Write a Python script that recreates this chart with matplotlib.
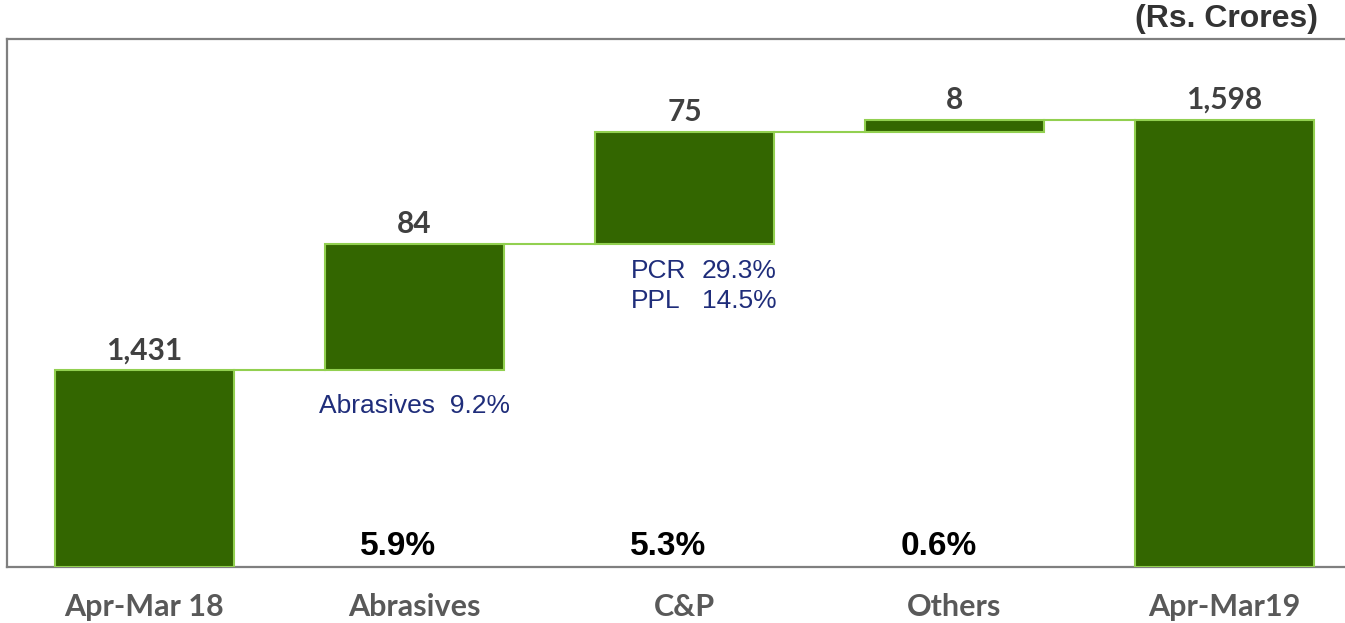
import numpy as np
import matplotlib.pyplot as plt

# ================================
# DATA
# ================================
categories = ["Apr-Mar 18", "Abrasives", "C&P", "Others", "Apr-Mar19"]
values = [1431, 84, 75, 8, 1598]
is_total = [True, False, False, False, True]
value_labels = ["1,431", "84", "75", "8", "1,598"]
growth_labels = ["", "5.9%", "5.3%", "0.6%", ""]

# segment notes (blue text under the step bars)
abr_note = ("Abrasives", "9.2%")
cp_notes = [("PCR", "29.3%"), ("PPL", "14.5%")]

y_min, y_max = 1300, 1652

# ================================
# STYLE
# ================================
bar_color = "#336600"
edge_color = "#92D050"
label_gray = "#595959"
value_gray = "#404040"
note_blue = "#1F2D7A"
bar_w = 0.663

# ================================
# COMPUTE WATERFALL
# ================================
bottoms, heights = [], []
running = 0
for v, tot in zip(values, is_total):
    if tot:
        bottoms.append(y_min)
        heights.append(v - y_min)
        running = v
    else:
        bottoms.append(running)
        heights.append(v)
        running += v
tops = [b + h for b, h in zip(bottoms, heights)]

x = np.arange(len(categories))

fig = plt.figure(figsize=(13.45, 6.23), dpi=100)
ax = fig.add_axes([0.0052, 0.0899, 0.9948, 0.8475])

ax.bar(x, heights, bottom=bottoms, width=bar_w, color=bar_color,
       edgecolor=edge_color, linewidth=1.5, zorder=3)

# connectors
for i in range(len(x) - 1):
    ax.plot([x[i] + bar_w / 2, x[i + 1] - bar_w / 2], [tops[i], tops[i]],
            color=edge_color, lw=1.5, zorder=2)

# value labels on top
for i, lab in enumerate(value_labels):
    ax.text(x[i], tops[i] + 4, lab, ha="center", va="bottom",
            fontsize=21.5, fontweight="bold", color=value_gray, family="Lato")

# growth % near baseline
for i, lab in enumerate(growth_labels):
    if lab:
        ax.text(x[i] - 0.06, y_min + 3, lab, ha="center", va="bottom",
                fontsize=24, fontweight="bold", color="black",
                family="Liberation Sans")

# blue notes
ax.text(x[1], 1407, f"{abr_note[0]}  {abr_note[1]}", ha="center", va="center",
        fontsize=19, color=note_blue, family="Liberation Sans")
for (name, pct), yy in zip(cp_notes, [1497.5, 1477.5]):
    ax.text(x[2] - 0.2, yy, name, ha="left", va="center",
            fontsize=19, color=note_blue, family="Liberation Sans")
    ax.text(x[2] + 0.34, yy, pct, ha="right", va="center",
            fontsize=19, color=note_blue, family="Liberation Sans")

fig.text(0.98, 0.97, "(Rs. Crores)", ha="right", va="center",
         fontsize=23, fontweight="bold", color="#333333", family="Liberation Sans")

# axes styling
ax.set_xlim(-0.509, 4.446)
ax.set_ylim(y_min, y_max)
ax.set_xticks(x)
ax.set_xticklabels(categories, fontsize=22, fontweight="bold",
                   color=label_gray, family="Lato")
ax.tick_params(axis="x", length=0, pad=19)
ax.set_yticks([])
ax.spines["right"].set_visible(False)
for s in ["left", "top", "bottom"]:
    ax.spines[s].set_color("#7F7F7F")
    ax.spines[s].set_linewidth(1.6)

plt.savefig("out.png", dpi=100)
plt.close()
